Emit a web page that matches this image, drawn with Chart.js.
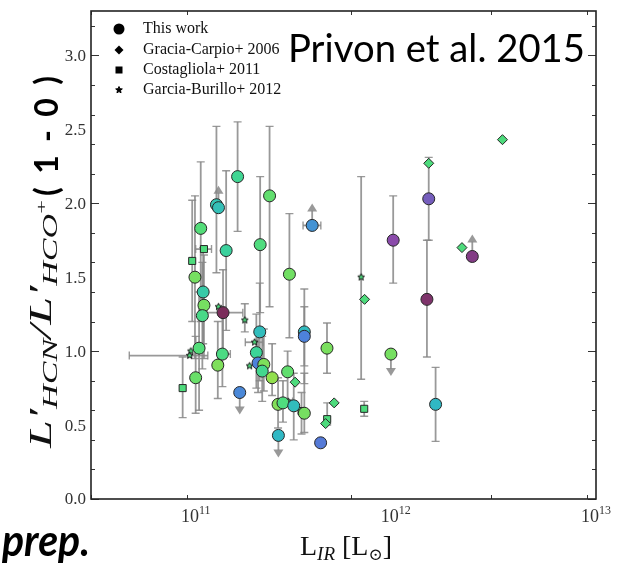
<!DOCTYPE html>
<html>
<head>
<meta charset="utf-8">
<script src="https://cdn.jsdelivr.net/npm/chart.js@4.4.1/dist/chart.umd.min.js"></script>
<style>
  html, body { margin: 0; padding: 0; background: #fff; }
</style>
</head>
<body>
<canvas id="chart" width="622" height="563"></canvas>
<script>
// ---- This work (circles) ----
const twLIR = [1.62e11, 1.27e11, 1.30e11, 2.34e11, 1.06e11, 1.42e11, 2.10e11, 2.94e11, 9.92e10, 1.09e11,
               1.10e11, 1.08e11, 1.37e11, 2.09e11, 1.04e11, 1.36e11, 1.29e11, 1.00e11, 1.66e11, 2.01e11,
               2.05e11, 2.19e11, 2.15e11, 2.41e11, 2.88e11, 2.58e11, 2.73e11, 2.59e11, 3.49e11, 3.49e11,
               4.53e11, 9.45e11, 3.09e11, 3.49e11, 4.21e11, 1.58e12, 3.82e11, 9.70e11, 1.46e12, 1.43e12,
               2.41e12];
const twRatio = [2.18, 1.99, 1.97, 2.05, 1.83, 1.68, 1.72, 1.52, 1.50, 1.40,
                 1.31, 1.24, 1.26, 1.13, 1.02, 0.98, 0.905, 0.82, 0.72, 0.99,
                 0.92, 0.91, 0.865, 0.82, 0.86, 0.64, 0.65, 0.43, 1.13, 1.10,
                 1.02, 0.98, 0.63, 0.58, 0.38, 0.64, 1.85, 1.75, 2.03, 1.35,
                 1.64];
const twLo = [1.81, 1.53, null, 1.30, 1.20, 1.14, 1.26, 1.09, 0.95, 1.05,
              0.95, 0.88, 0.95, 0.80, 0.60, 0.76, 0.68, 0.58, null, 0.75,
              0.72, 0.73, 0.66, 0.70, 0.67, 0.48, 0.52, null, 0.90, 0.78,
              0.85, null, 0.40, 0.45, null, 0.39, null, 1.46, 1.75, 0.96,
              null];
const twHi = [2.55, 2.52, null, 2.52, 2.28, 2.22, 2.18, 1.93, 2.05, 1.70,
              1.65, 1.60, 1.55, 1.46, 1.40, 1.30, 1.20, 1.10, null, 1.25,
              1.15, 1.15, 1.10, 1.05, 1.00, 0.82, 0.80, null, 1.42, 1.30,
              1.19, null, 0.85, 0.85, null, 0.89, null, 2.05, 2.31, 1.75,
              null];
const twXLo = [null, null, null, null, null, null, null, null, null, null,
               null, null, 1.14e11, null, null, 1.30e11, null, null, null, null,
               null, null, null, null, null, null, null, null, null, null,
               null, null, null, null, null, null, 3.44e11, null, null, null,
               null];
const twXHi = [null, null, null, null, null, null, null, null, null, null,
               null, null, 1.72e11, null, null, 1.49e11, null, null, null, null,
               null, null, null, null, null, null, null, null, null, null,
               null, null, null, null, null, null, 4.22e11, null, null, null,
               null];
// 'up' = lower limit, 'down' = upper limit
const twLimit = ['', '', 'up', '', '', '', '', '', '', '',
                 '', '', '', '', '', '', '', '', 'down', '',
                 '', '', '', '', '', '', '', 'down', '', '',
                 '', 'down', '', '', '', '', 'up', '', '', '',
                 'up'];
// colour-coded quantity (0 = maroon end, 1 = yellow-green end)
const twStage = [0.74, 0.62, 0.60, 0.88, 0.84, 0.70, 0.82, 0.92, 0.93, 0.66,
                 0.93, 0.78, 0.00, 0.58, 0.84, 0.80, 0.95, 0.90, 0.38, 0.72,
                 0.36, 0.95, 0.76, 1.00, 0.88, 0.96, 0.82, 0.55, 0.57, 0.36,
                 0.94, 0.93, 0.58, 0.93, 0.33, 0.55, 0.42, 0.15, 0.22, 0.03,
                 0.08];

// ---- Gracia-Carpio+ 2006 (diamonds) ----
const gcLIR = [3.41e12, 1.46e12, 2.14e12, 6.98e11, 3.14e11, 4.92e11, 4.46e11];
const gcRatio = [2.43, 2.27, 1.70, 1.35, 0.79, 0.65, 0.51];

// ---- Costagliola+ 2011 (squares) ----
const coLIR = [9.61e10, 1.10e11, 8.61e10, 3.38e11, 4.54e11, 6.95e11];
const coRatio = [1.61, 1.69, 0.75, 0.595, 0.54, 0.61];
const coLo = [1.20, null, 0.55, 0.44, 0.50, 0.56];
const coHi = [2.02, null, 0.96, 0.72, 0.65, 0.66];
const coXLo = [null, 1.00e11, null, null, null, null];
const coXHi = [null, 1.20e11, null, null, null, null];

// ---- Garcia-Burillo+ 2012 (stars) ----
const gbLIR = [9.47e10, 9.33e10, 1.30e11, 1.76e11, 1.97e11, 1.86e11, 2.90e11, 6.71e11];
const gbRatio = [1.00, 0.97, 1.30, 1.21, 1.06, 0.90, 0.66, 1.50];
const gbLo = [null, null, null, 1.13, null, null, null, 0.81];
const gbHi = [null, null, null, 1.32, null, null, null, 2.18];
const gbXLo = [null, 4.66e10, null, null, 1.77e11, null, 2.75e11, null];
const gbXHi = [null, 1.15e11, null, null, 2.17e11, null, 3.05e11, null];

// ---- axes ----
const xMin = 3e10, xMax = 1e13;
const yMin = 0, yMax = 3.3;
const xDecades = [11, 12, 13];
const yLabels = ['0.0', '0.5', '1.0', '1.5', '2.0', '2.5', '3.0'];
const legendLabels = ['This work', 'Gracia-Carpio+ 2006', 'Costagliola+ 2011', 'Garcia-Burillo+ 2012'];

const SERIF = '"Liberation Serif", "DejaVu Serif", serif';
const SANS = 'Lato, "Open Sans", sans-serif';
const litFill = '#4ddb7c';
const edge = '#262626';
const barColor = 'rgba(135,135,135,0.85)';

const cmapStops = [
  [0.00, '#7b2d5b'], [0.15, '#8a4aaa'], [0.35, '#4f7fdc'], [0.55, '#30b8c4'],
  [0.72, '#3cd498'], [0.85, '#55de76'], [1.00, '#92e04e']
];
function hexToRgb(h) { return [1, 3, 5].map(i => parseInt(h.substr(i, 2), 16)); }
function cmap(v) {
  for (let i = 1; i < cmapStops.length; i++) {
    if (v <= cmapStops[i][0]) {
      const [a, ca] = cmapStops[i - 1], [b, cb] = cmapStops[i];
      const t = (v - a) / (b - a), A = hexToRgb(ca), B = hexToRgb(cb);
      return 'rgb(' + A.map((x, k) => Math.round(x + (B[k] - x) * t)).join(',') + ')';
    }
  }
  return cmapStops[cmapStops.length - 1][1];
}

function starCanvas(r, fill, stroke) {
  const s = Math.ceil(r * 2 + 3);
  const cv = document.createElement('canvas');
  cv.width = cv.height = s;
  const g = cv.getContext('2d');
  g.beginPath();
  for (let i = 0; i < 10; i++) {
    const rr = i % 2 ? r * 0.45 : r;
    const a = -Math.PI / 2 + i * Math.PI / 5;
    g.lineTo(s / 2 + rr * Math.cos(a), s / 2 + rr * Math.sin(a));
  }
  g.closePath();
  g.fillStyle = fill; g.fill();
  g.lineWidth = 1; g.strokeStyle = stroke; g.stroke();
  return cv;
}

const pts = (xs, ys) => xs.map((x, i) => ({ x: x, y: ys[i] }));

// error bar info per dataset index
const errInfo = [
  { lo: twLo, hi: twHi, xlo: twXLo, xhi: twXHi, lim: twLimit },
  { lo: [], hi: [], xlo: [], xhi: [], lim: [] },
  { lo: coLo, hi: coHi, xlo: coXLo, xhi: coXHi, lim: [] },
  { lo: gbLo, hi: gbHi, xlo: gbXLo, xhi: gbXHi, lim: [] }
];

function runsWidth(ctx, runs) {
  let w = 0;
  runs.forEach(r => { ctx.font = r.font; w += ctx.measureText(r.t).width; });
  return w;
}
function drawRuns(ctx, runs, x, y) {
  runs.forEach(r => {
    ctx.font = r.font;
    ctx.fillText(r.t, x, y + (r.dy || 0));
    x += ctx.measureText(r.t).width;
  });
}
// draw characters spread evenly over a given length
function drawSpaced(ctx, text, x, y, length) {
  const chars = text.split('');
  const ws = chars.map(c => ctx.measureText(c).width);
  const total = ws.reduce((s, w) => s + w, 0);
  const gap = (length - total) / (chars.length - 1);
  chars.forEach((c, i) => { ctx.fillText(c, x, y); x += ws[i] + gap; });
}

const decorations = {
  id: 'decorations',
  beforeDatasetsDraw(chart) {
    const ctx = chart.ctx, xs = chart.scales.x, ys = chart.scales.y;
    ctx.save();
    ctx.strokeStyle = barColor;
    ctx.fillStyle = barColor;
    chart.data.datasets.forEach((ds, di) => {
      const e = errInfo[di];
      ds.data.forEach((p, i) => {
        const px = xs.getPixelForValue(p.x), py = ys.getPixelForValue(p.y);
        ctx.lineWidth = 1.8;
        if (e.lo[i] != null) {
          const y1 = ys.getPixelForValue(e.lo[i]), y2 = ys.getPixelForValue(e.hi[i]);
          ctx.beginPath(); ctx.moveTo(px, y1); ctx.lineTo(px, y2); ctx.stroke();
          ctx.lineWidth = 1.4;
          ctx.beginPath();
          ctx.moveTo(px - 4, y1); ctx.lineTo(px + 4, y1);
          ctx.moveTo(px - 4, y2); ctx.lineTo(px + 4, y2);
          ctx.stroke();
        }
        ctx.lineWidth = 1.8;
        if (e.xlo[i] != null) {
          const x1 = xs.getPixelForValue(e.xlo[i]), x2 = xs.getPixelForValue(e.xhi[i]);
          ctx.beginPath(); ctx.moveTo(x1, py); ctx.lineTo(x2, py); ctx.stroke();
          ctx.lineWidth = 1.4;
          ctx.beginPath();
          ctx.moveTo(x1, py - 4); ctx.lineTo(x1, py + 4);
          ctx.moveTo(x2, py - 4); ctx.lineTo(x2, py + 4);
          ctx.stroke();
        }
        const lim = e.lim[i];
        if (lim === 'up' || lim === 'down') {
          const s = lim === 'up' ? -1 : 1;
          ctx.lineWidth = 1.8;
          ctx.beginPath(); ctx.moveTo(px, py); ctx.lineTo(px, py + s * 15); ctx.stroke();
          ctx.beginPath();
          ctx.moveTo(px, py + s * 22);
          ctx.lineTo(px - 5, py + s * 14);
          ctx.lineTo(px + 5, py + s * 14);
          ctx.closePath(); ctx.fill();
        }
      });
    });
    ctx.restore();
  },
  afterDatasetsDraw(chart) {
    const ctx = chart.ctx, xs = chart.scales.x, ys = chart.scales.y;
    const a = chart.chartArea;
    ctx.save();
    // ticks, inward on all four sides
    ctx.strokeStyle = '#333';
    ctx.lineWidth = 1;
    ys.ticks.forEach(t => {
      const k = Math.round(t.value * 10);
      const len = k % 5 === 0 ? 8 : 4;
      const y = Math.round(ys.getPixelForValue(t.value)) + 0.5;
      ctx.beginPath();
      ctx.moveTo(a.left, y); ctx.lineTo(a.left + len, y);
      ctx.moveTo(a.right, y); ctx.lineTo(a.right - len, y);
      ctx.stroke();
    });
    xs.ticks.forEach(t => {
      const lg = Math.log10(t.value);
      const len = Math.abs(lg - Math.round(lg)) < 1e-6 ? 8 : 4;
      const x = Math.round(xs.getPixelForValue(t.value)) + 0.5;
      ctx.beginPath();
      ctx.moveTo(x, a.bottom); ctx.lineTo(x, a.bottom - len);
      ctx.moveTo(x, a.top); ctx.lineTo(x, a.top + len);
      ctx.stroke();
    });
    // frame
    ctx.strokeStyle = '#222';
    ctx.lineWidth = 1.6;
    ctx.strokeRect(a.left, a.top, a.right - a.left, a.bottom - a.top);

    // y tick labels
    ctx.fillStyle = '#333';
    ctx.font = '17px ' + SERIF;
    ctx.textAlign = 'right';
    ctx.textBaseline = 'middle';
    yLabels.forEach(lab => {
      ctx.fillText(lab, a.left - 5, ys.getPixelForValue(parseFloat(lab)) + 1);
    });
    // x tick labels 10^n
    ctx.textAlign = 'left';
    ctx.textBaseline = 'alphabetic';
    xDecades.forEach(d => {
      const x = xs.getPixelForValue(Math.pow(10, d));
      const runs = [{ t: '10', font: '18px ' + SERIF }, { t: String(d), font: '12px ' + SERIF, dy: -8 }];
      const w = runsWidth(ctx, runs);
      drawRuns(ctx, runs, x - w / 2, 522);
    });

    // x title
    ctx.fillStyle = '#111';
    const xt = [
      { t: 'L', font: '28px ' + SERIF },
      { t: 'IR', font: 'italic 19px ' + SERIF, dy: 5 },
      { t: ' [L', font: '28px ' + SERIF },
      { t: '\u2299', font: '17px "DejaVu Serif", serif', dy: 5 },
      { t: ']', font: '28px ' + SERIF }
    ];
    const xw = runsWidth(ctx, xt);
    drawRuns(ctx, xt, 346 - xw / 2, 555);

    // y title (rotated)
    ctx.save();
    ctx.translate(51, 448);
    ctx.rotate(-Math.PI / 2);
    const yt = [
      { t: 'L\u2032', font: 'italic 31px ' + SERIF },
      { t: 'HCN', font: 'italic 21px ' + SERIF, dy: 6 },
      { t: '/L\u2032', font: 'italic 31px ' + SERIF },
      { t: 'HCO', font: 'italic 21px ' + SERIF, dy: 6 },
      { t: '+', font: '15px ' + SERIF, dy: -5 }
    ];
    const yw = runsWidth(ctx, yt);
    ctx.save();
    ctx.scale(248 / yw, 1);
    drawRuns(ctx, yt, 0, 0);
    ctx.restore();
    ctx.font = 'bold 32px ' + SANS;
    ctx.fillStyle = '#000';
    drawSpaced(ctx, '(1-0)', 252, 7, 120);
    ctx.restore();

    // legend
    const lx = 119, rows = [29, 50, 70, 90];
    ctx.fillStyle = '#000';
    ctx.beginPath(); ctx.arc(lx, rows[0], 5.5, 0, Math.PI * 2); ctx.fill();
    ctx.beginPath();
    ctx.moveTo(lx, rows[1] - 4.5); ctx.lineTo(lx + 4.5, rows[1]);
    ctx.lineTo(lx, rows[1] + 4.5); ctx.lineTo(lx - 4.5, rows[1]);
    ctx.closePath(); ctx.fill();
    ctx.fillRect(lx - 3.5, rows[2] - 3.5, 7, 7);
    ctx.drawImage(starCanvas(3.5, '#000', '#000'), lx - 5, rows[3] - 5);
    ctx.font = '16px ' + SERIF;
    ctx.textBaseline = 'middle';
    ctx.fillStyle = '#111';
    legendLabels.forEach((lab, i) => ctx.fillText(lab, 143, rows[i]));

    // annotation
    ctx.textBaseline = 'alphabetic';
    ctx.font = '38px ' + SANS;
    const pw = ctx.measureText('Privon et al. 2015').width;
    ctx.save();
    ctx.translate(288, 62);
    ctx.scale(297 / pw, 1);
    ctx.fillStyle = '#000';
    ctx.fillText('Privon et al. 2015', 0, 0);
    ctx.restore();

    ctx.font = 'italic bold 44px ' + SANS;
    const qw = ctx.measureText('prep.').width;
    ctx.save();
    ctx.translate(2, 556);
    ctx.scale(88 / qw, 1);
    ctx.fillStyle = '#000';
    ctx.fillText('prep.', 0, 0);
    ctx.restore();

    ctx.restore();
  }
};

const chart = new Chart(document.getElementById('chart').getContext('2d'), {
  type: 'scatter',
  data: {
    datasets: [
      {
        label: legendLabels[0],
        data: pts(twLIR, twRatio),
        pointStyle: 'circle',
        pointRadius: 6,
        pointBackgroundColor: twStage.map(cmap),
        pointBorderColor: edge,
        pointBorderWidth: 1
      },
      {
        label: legendLabels[1],
        data: pts(gcLIR, gcRatio),
        pointStyle: 'rectRot',
        pointRadius: 5,
        pointBackgroundColor: litFill,
        pointBorderColor: edge,
        pointBorderWidth: 1
      },
      {
        label: legendLabels[2],
        data: pts(coLIR, coRatio),
        pointStyle: 'rect',
        pointRadius: 5,
        pointBackgroundColor: litFill,
        pointBorderColor: edge,
        pointBorderWidth: 1
      },
      {
        label: legendLabels[3],
        data: pts(gbLIR, gbRatio),
        pointStyle: starCanvas(3.6, litFill, '#111'),
        pointRadius: 4
      }
    ]
  },
  options: {
    responsive: false,
    animation: false,
    layout: { padding: { left: 91, right: 26, top: 11, bottom: 64 } },
    plugins: {
      legend: { display: false },
      tooltip: { enabled: false }
    },
    scales: {
      x: {
        type: 'logarithmic',
        display: false,
        min: xMin,
        max: xMax,
        afterBuildTicks: (scale) => {
          const ticks = [];
          for (let d = 10; d <= 13; d++) {
            for (let m = 1; m <= 9; m++) {
              const v = m * Math.pow(10, d);
              if (v >= xMin && v <= xMax) ticks.push({ value: v });
            }
          }
          scale.ticks = ticks;
        }
      },
      y: {
        display: false,
        min: yMin,
        max: yMax,
        afterBuildTicks: (scale) => {
          const ticks = [];
          for (let k = 0; k <= Math.round(yMax * 10); k++) ticks.push({ value: k / 10 });
          scale.ticks = ticks;
        }
      }
    }
  },
  plugins: [decorations]
});
</script>
</body>
</html>
